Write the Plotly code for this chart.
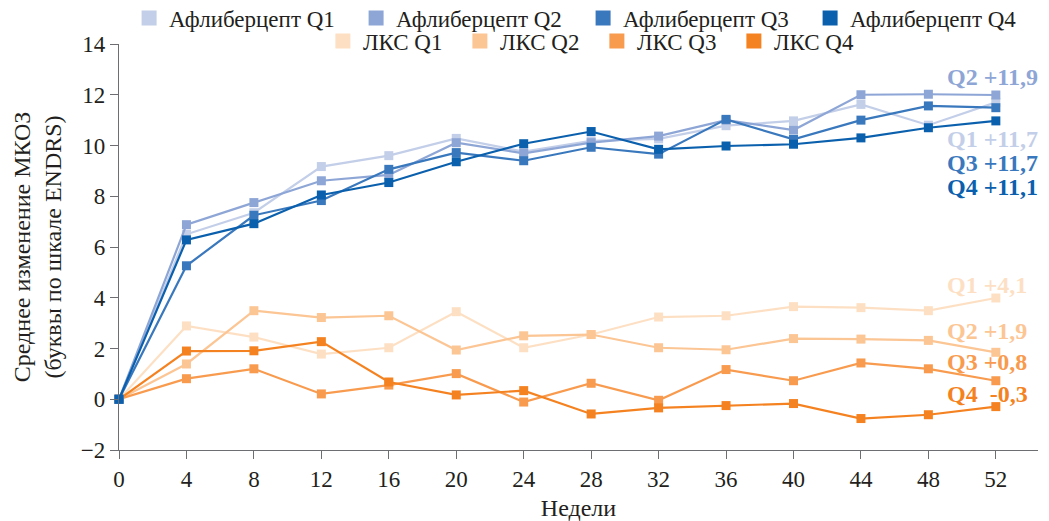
import plotly.graph_objects as go

weeks = [0, 4, 8, 12, 16, 20, 24, 28, 32, 36, 40, 44, 48, 52]

afl_q1 = [0, 6.5, 7.35, 9.17, 9.6, 10.28, 9.76, 10.18, 10.26, 10.78, 10.97, 11.62, 10.8, 11.7]
afl_q2 = [0, 6.88, 7.75, 8.61, 8.84, 10.11, 9.69, 10.11, 10.37, 11.0, 10.61, 12.0, 12.02, 11.99]
afl_q3 = [0, 5.26, 7.25, 7.83, 9.06, 9.72, 9.4, 9.93, 9.66, 11.03, 10.24, 11.0, 11.56, 11.49]
afl_q4 = [0, 6.28, 6.92, 8.05, 8.54, 9.36, 10.07, 10.55, 9.85, 9.98, 10.05, 10.3, 10.7, 10.97]

lks_q1 = [0, 2.89, 2.45, 1.78, 2.03, 3.45, 2.03, 2.55, 3.24, 3.29, 3.65, 3.61, 3.49, 3.99]
lks_q2 = [0, 1.39, 3.49, 3.22, 3.29, 1.94, 2.5, 2.55, 2.03, 1.95, 2.39, 2.37, 2.32, 1.85]
lks_q3 = [0, 0.81, 1.2, 0.21, 0.56, 1.01, -0.11, 0.63, -0.04, 1.17, 0.73, 1.43, 1.2, 0.73]
lks_q4 = [0, 1.9, 1.91, 2.27, 0.68, 0.17, 0.34, -0.58, -0.34, -0.25, -0.17, -0.76, -0.61, -0.29]

afl_names = ["Афлиберцепт Q1", "Афлиберцепт Q2", "Афлиберцепт Q3", "Афлиберцепт Q4"]
lks_names = ["ЛКС Q1", "ЛКС Q2", "ЛКС Q3", "ЛКС Q4"]
afl_colors = ["#c3cee8", "#8ea6d6", "#3a78bd", "#0b60ad"]
lks_colors = ["#fde0c4", "#fcc594", "#f89b4f", "#f58220"]

afl_labels = ["Q1 +11,7", "Q2 +11,9", "Q3 +11,7", "Q4 +11,1"]
afl_label_y = [10.25, 12.71, 9.31, 8.38]
lks_labels = ["Q1 +4,1", "Q2 +1,9", "Q3 +0,8", "Q4  -0,3"]
lks_label_y = [4.5, 2.7, 1.48, 0.21]
label_x = 49.0

FONT = "Liberation Serif, Times New Roman, serif"
FS = 23
FT = 24
fig = go.Figure()

groups = [
    (lks_names, lks_colors, [lks_q1, lks_q2, lks_q3, lks_q4], "legend2"),
    (afl_names, afl_colors, [afl_q1, afl_q2, afl_q3, afl_q4], "legend"),
]
for names, colors, series, leg in groups:
    for name, color, vals in zip(names, colors, series):
        fig.add_trace(go.Scatter(
            x=weeks, y=vals, mode="lines+markers", name=name,
            line=dict(color=color, width=2.2),
            marker=dict(symbol="square", size=9, color=color),
            showlegend=False, cliponaxis=False,
        ))

# legend-only entries (square swatches)
for names, colors, series, leg in [groups[1], groups[0]]:
    for name, color in zip(names, colors):
        fig.add_trace(go.Scatter(
            x=[None], y=[None], mode="markers", name=name,
            marker=dict(symbol="square", size=15, color=color),
            legend=leg, showlegend=True,
        ))

for txt, yy, c in zip(afl_labels, afl_label_y, afl_colors):
    fig.add_annotation(x=label_x, y=yy, text="<b>%s</b>" % txt, showarrow=False,
                       xanchor="left", yanchor="middle",
                       font=dict(family=FONT, size=FT, color=c))
for txt, yy, c in zip(lks_labels, lks_label_y, lks_colors):
    fig.add_annotation(x=label_x, y=yy, text="<b>%s</b>" % txt.replace("  ", "&nbsp; "), showarrow=False,
                       xanchor="left", yanchor="middle",
                       font=dict(family=FONT, size=FT, color=c))

axis_common = dict(
    showgrid=False, zeroline=False, showline=True, linecolor="#6d6e71", linewidth=1.3,
    ticks="outside", ticklen=8, tickcolor="#6d6e71", tickwidth=1.3,
    tickfont=dict(family=FONT, size=FS, color="#231f20"),
)

fig.update_layout(
    width=1041, height=513,
    margin=dict(l=111, r=11, t=36, b=71, autoexpand=False),
    paper_bgcolor="white", plot_bgcolor="white",
    font=dict(family=FONT, size=FS, color="#231f20"),
    xaxis=dict(range=[0, 54.5], tickvals=weeks, ticktext=[str(w) for w in weeks],
               title=dict(text="Недели", font=dict(family=FONT, size=FT), standoff=10),
               **axis_common),
    yaxis=dict(range=[-2, 14], tickvals=list(range(-2, 15, 2)),
               title=dict(text="Среднее изменение МКОЗ<br>(буквы по шкале ENDRS)",
                          font=dict(family=FONT, size=FT), standoff=12),
               **axis_common),
    legend=dict(orientation="h", x=0.505, xanchor="center", y=1.064, yanchor="middle",
                font=dict(family=FONT, size=FS, color="#231f20"),
                itemsizing="trace", tracegroupgap=0, bgcolor="rgba(0,0,0,0)",
                itemwidth=30, entrywidth=182, entrywidthmode="pixels"),
    legend2=dict(orientation="h", x=0.52, xanchor="center", y=1.0074, yanchor="middle",
                 font=dict(family=FONT, size=FS, color="#231f20"),
                 itemsizing="trace", bgcolor="rgba(0,0,0,0)", itemwidth=30,
                 entrywidth=92, entrywidthmode="pixels"),
    showlegend=True,
)

fig.write_html("out.html")
